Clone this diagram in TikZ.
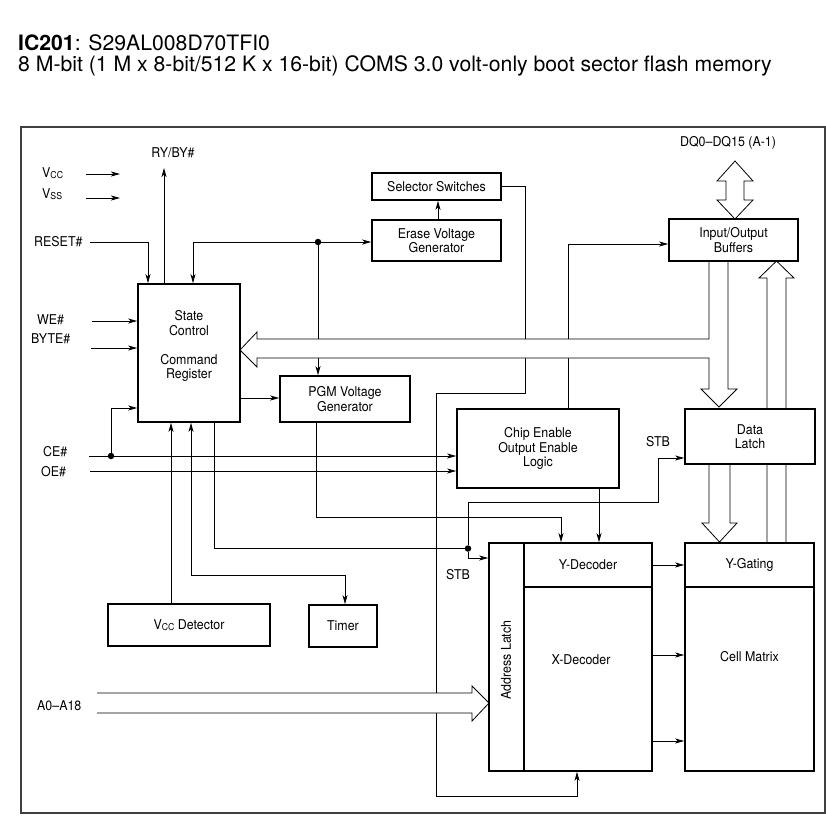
\documentclass[tikz,border=0pt]{standalone}
\usepackage{fontspec}
\setmainfont{TeX Gyre Heros}[FakeStretch=0.92]
\newfontfamily\titlefam{TeX Gyre Heros}
\usetikzlibrary{arrows.meta, positioning, backgrounds}
\newcommand{\diafont}{\fontsize{13.5}{14.5}\selectfont}
\newcommand{\titlefont}{\titlefam\fontsize{21.2}{21}\selectfont}
\newcommand{\vsub}[1]{\raisebox{-0.2ex}{\fontsize{9.5}{10}\selectfont #1}}

\begin{document}
\begin{tikzpicture}[
        x=1pt, y=-1pt,
        font=\diafont,
        block/.style={
            draw,
            line width=1.6pt,
            fill=white,
            inner sep=0pt,
            align=center
        },
        wire/.style={line width=0.8pt},
        sig/.style={wire, -{Stealth[length=9pt, width=5pt, inset=2.5pt]}},
        sigboth/.style={wire, {Stealth[length=9pt, width=5pt, inset=2.5pt]}-{Stealth[length=9pt, width=5pt, inset=2.5pt]}},
        bus/.style={draw, line width=0.8pt, fill=white, line join=miter},
        joint/.style={circle, fill, inner sep=0pt, minimum size=6.5pt},
        pin/.style={anchor=west, inner sep=0pt},
        tag/.style={inner sep=0pt},
        heading/.style={anchor=base west, inner sep=0pt, font=\titlefont, text height=0.74em}
    ]
        \useasboundingbox (0,0) rectangle (826,819);

        \node[heading, text depth=0pt] (title) at (18,50.5) {\textbf{IC201}: S29AL008D70TFI0};
        \node[heading, text depth=0.21em] (subtitle) at (18,71.5)
            {8 M-bit (1 M x 8-bit/512 K x 16-bit) COMS 3.0 volt-only boot sector flash memory};

        % blocks
        \node[block, minimum width=129pt, minimum height=27pt] (selsw) at (436.5,186.5) {Selector Switches};
        \node[block, minimum width=129pt, minimum height=41pt] (erase) at (436.5,240.5) {Erase Voltage\\Generator};
        \node[block, minimum width=129pt, minimum height=42pt] (iobuf) at (733.5,240) {Input/Output\\Buffers};
        \node[block, minimum width=102pt, minimum height=138pt,
            label={[align=center, yshift=7pt]center:{State\\Control\\[14.5pt]Command\\Register}}] (ctrl) at (189,353) {};
        \node[block, minimum width=130pt, minimum height=46pt] (pgm) at (345,399) {PGM Voltage\\Generator};
        \node[block, minimum width=162pt, minimum height=79pt] (celogic) at (538,448.5) {Chip Enable\\Output Enable\\Logic};
        \node[block, minimum width=130pt, minimum height=55pt] (dlatch) at (750,436.5) {Data\\Latch};
        \node[block, minimum width=35pt, minimum height=228pt] (alatch) at (506.5,657) {};
        \node[rotate=90, inner sep=0pt] (alatchtxt) at (506,660) {Address Latch};
        \node[block, minimum width=128pt, minimum height=44pt] (ydec) at (588,565) {Y-Decoder};
        \node[block, minimum width=128pt, minimum height=184pt,
            label={[xshift=-7pt, yshift=19pt]center:X-Decoder}] (xdec) at (588,679) {};
        \node[block, minimum width=129pt, minimum height=44pt] (ygate) at (749.5,565) {Y-Gating};
        \node[block, minimum width=129pt, minimum height=184pt,
            label={[yshift=22pt]center:Cell Matrix}] (cellmx) at (749.5,679) {};
        \node[block, minimum width=162pt, minimum height=42pt] (vccdet) at (189,625) {V\vsub{CC} Detector};
        \node[block, minimum width=68pt, minimum height=42pt] (timer) at (343,626) {Timer};

        % pins and tags
        \node[pin] (vcc) at (42,173) {V\vsub{CC}};
        \node[pin] (vss) at (42,194) {V\vsub{SS}};
        \node[pin] (reset) at (34,242) {RESET\#};
        \node[pin] (we) at (37,320) {WE\#};
        \node[pin] (byte) at (31,339) {BYTE\#};
        \node[pin] (ce) at (43,452) {CE\#};
        \node[pin] (oe) at (41,472) {OE\#};
        \node[pin] (addr) at (37,706) {A0--A18};
        \node[tag] (rdy) at (173,153) {RY/BY\#};
        \node[tag] (dq) at (728,143) {DQ0--DQ15 (A-1)};
        \node[tag] (stbl) at (458,575) {STB};
        \node[tag] (stbr) at (658,442) {STB};

        \node[joint] (jerase) at (318,242) {};
        \node[joint] (jce) at (111,456) {};
        \node[joint] (jstb) at (468,548.5) {};

        \coordinate (vccin) at (86,174);
        \coordinate (vccout) at (120,174);
        \coordinate (vssin) at (86,198);
        \coordinate (vssout) at (120,198);
        \coordinate (rdyout) at (164,168);
        \coordinate (resetin) at (90,242);
        \coordinate (wein) at (92,321);
        \coordinate (bytein) at (91,348);
        \coordinate (cein) at (89,456);
        \coordinate (oein) at (90,471);

        \begin{scope}[on background layer]
            \draw[line width=1.3pt, black!75] (21,127) rectangle (825,813);

            \draw[sig] (vccin) -- (vccout);
            \draw[sig] (vssin) -- (vssout);
            \draw[sig] (164,0 |- ctrl.north) -- (rdyout);
            \draw[sig] (resetin) -| (148,0 |- ctrl.north);
            \draw[sig] (jerase) -| (193,0 |- ctrl.north);
            \draw[sig] (jerase) -- (erase.west |- jerase);
            \draw[sig] (jerase) -- (jerase |- pgm.north);
            \draw[sig] (438,0 |- erase.north) -- (438,0 |- selsw.south);
            \draw[sig] (selsw.east) -| (525,393) -- (436,393) -- (436,796) -| (577,0 |- xdec.south);
            \draw[sig] (568,0 |- celogic.north) |- (iobuf.west |- 0,244);
            \draw[sig] (wein) -- (ctrl.west |- wein);
            \draw[sig] (bytein) -- (ctrl.west |- bytein);
            \draw[sig] (cein) -- (celogic.west |- cein);
            \draw[sig] (oein) -- (celogic.west |- oein);
            \draw[sig] (jce) |- (ctrl.west |- 0,408);
            \draw[sig] (ctrl.east |- 0,398) -- (pgm.west |- 0,398);
            \draw[sig] (316,0 |- pgm.south) |- (561,517) -- (561,0 |- ydec.north);
            \draw[sig] (599,0 |- celogic.south) -- (599,0 |- ydec.north);
            \draw[sig] (jstb) |- (658,502) |- (dlatch.west |- 0,458);
            \draw[sig] (214,0 |- ctrl.south) |- (jstb) |- (alatch.west |- 0,558);
            \draw[sig] (171,0 |- vccdet.north) -- (171,0 |- ctrl.south);
            \draw[sigboth] (191,0 |- ctrl.south) |- (345,575) -- (345,0 |- timer.north);
            \draw[sig] (ydec.east) -- (ygate.west);
            \draw[sig] (xdec.east |- 0,655) -- (cellmx.west |- 0,655);
            \draw[sig] (xdec.east |- 0,741) -- (cellmx.west |- 0,741);

            % buses
            \draw[bus] (735,161) -- (753,181) -- (744,181) -- (744,200) -- (753,200) -- (735,219)
                -- (717,200) -- (726,200) -- (726,181) -- (717,181) -- cycle;
            \draw[bus] (709,261) -- (709,339) -- (257,339) -- (257,332) -- (240,350) -- (257,367)
                -- (257,358) -- (709,358) -- (709,389) -- (701,389) -- (719,407) -- (737,389)
                -- (728,389) -- (728,261);
            \draw[bus] (767,543) -- (767,278) -- (759,278) -- (776.5,261) -- (794,278) -- (786,278) -- (786,543);
            \draw[bus] (709,464) -- (709,523) -- (702,523) -- (719.5,542) -- (737,523) -- (730,523) -- (730,464);
            \draw[bus] (97,693) -- (472,693) -- (472,686) -- (489,703) -- (472,721) -- (472,713) -- (97,713);
        \end{scope}
    \end{tikzpicture}
\end{document}
